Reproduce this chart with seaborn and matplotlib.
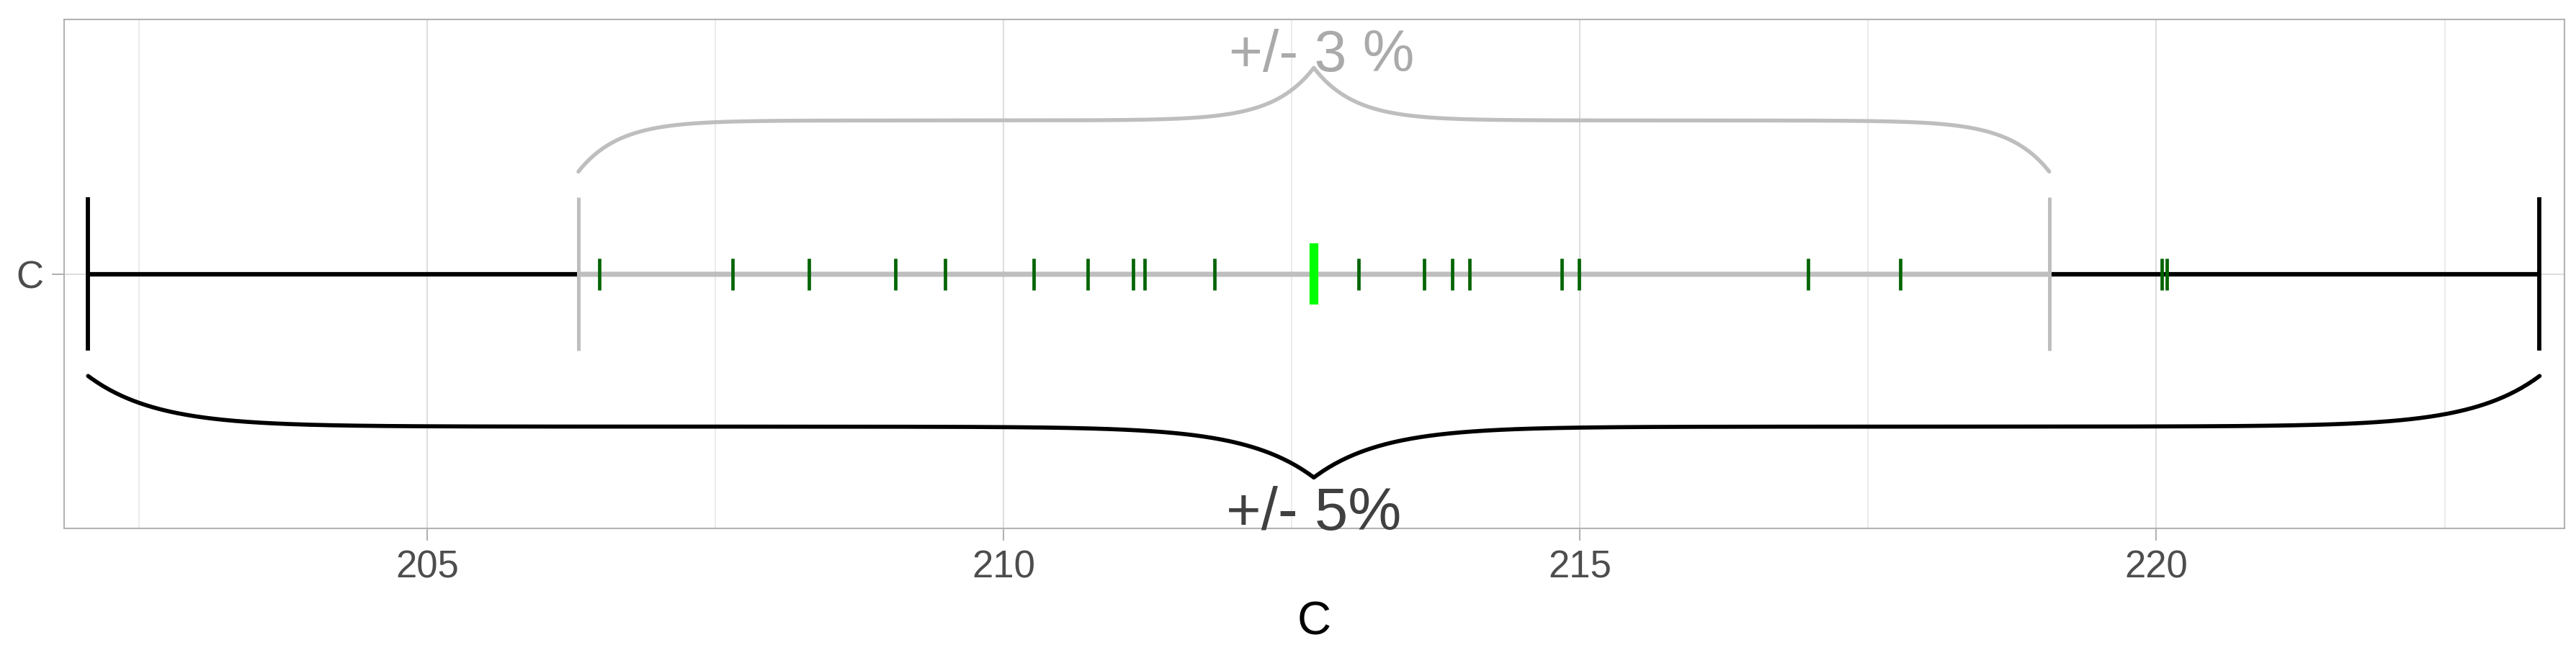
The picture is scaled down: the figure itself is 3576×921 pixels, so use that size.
import numpy as np
import matplotlib.pyplot as plt
import seaborn as sns
from matplotlib.ticker import MultipleLocator

# values
category = "C"
center = 212.69
pct_inner = 3
pct_outer = 5
values = [206.49, 207.65, 208.31, 209.06, 209.49, 210.26, 210.73, 211.12,
          211.22, 211.83, 213.08, 213.65, 213.89, 214.04, 214.84, 214.99,
          216.98, 217.78, 220.05, 220.09]
x_ticks = [205, 210, 215, 220]
label_inner = "+/- 3 %"
label_outer = "+/- 5%"

lo5, hi5 = center * (1 - pct_outer / 100), center * (1 + pct_outer / 100)
lo3, hi3 = center * (1 - pct_inner / 100), center * (1 + pct_inner / 100)


def brace(x1, x2, y_end, y_plat, y_tip, n=400):
    # curly brace from x1 to x2: ends at y_end, flat part at y_plat, point at y_tip
    half = (x2 - x1) / 2
    tau = 0.055 * half
    u = np.linspace(0, half, n)
    y = (y_plat + (y_end - y_plat) * np.exp(-u / tau)
         + (y_tip - y_plat) * np.exp(-(half - u) / tau))
    xs = np.concatenate([x1 + u, (x2 - u)[::-1]])
    ys = np.concatenate([y, y[::-1]])
    return xs, ys


sns.set_theme(style="whitegrid")
plt.rcParams['font.family'] = ['Liberation Sans', 'DejaVu Sans']

fig, ax = plt.subplots(figsize=(35.76, 9.21), dpi=100)
fig.subplots_adjust(left=0.025, right=0.9955, top=0.9707, bottom=0.203)

# +/- 5 % interval (black) and +/- 3 % interval (gray)
ax.hlines(0, lo5, hi5, color="black", lw=4.5, zorder=2)
ax.vlines([lo5, hi5], -0.3, 0.3, color="black", lw=4.2, zorder=2)
ax.hlines(0, lo3, hi3, color="#bebebe", lw=4.5, zorder=3)
ax.vlines([lo3, hi3], -0.3, 0.3, color="#bebebe", lw=3.6, zorder=3)

# individual values and the centre
sns.scatterplot(x=values, y=[0] * len(values), marker="|", s=1000,
                color="#006400", linewidth=3.4, ax=ax, zorder=4)
ax.vlines(center, -0.12, 0.12, color="#00ff00", lw=8.8, zorder=5)

# braces
bx, by = brace(lo3, hi3, 0.402, 0.603, 0.81)
ax.plot(bx, by, color="#bebebe", lw=3.9, solid_joinstyle="round",
        solid_capstyle="round", zorder=2)
ax.text(center + 0.07, 0.795, label_inner, ha="center", va="baseline",
        fontsize=58, color="#aaaaaa", zorder=6)
bx, by = brace(lo5, hi5, -0.401, -0.600, -0.80)
ax.plot(bx, by, color="black", lw=4.1, solid_joinstyle="round",
        solid_capstyle="round", zorder=2)
ax.text(center, -1.006, label_outer, ha="center", va="baseline",
        fontsize=60, color="#404040", zorder=6)

# axes styling
ax.set_xlim(201.85, 223.54)
ax.set_ylim(-1, 1)
ax.set_xticks(x_ticks)
ax.xaxis.set_minor_locator(MultipleLocator(2.5))
ax.set_yticks([0])
ax.set_yticklabels([category])
ax.grid(which="major", color="#dedede", lw=1.5)
ax.grid(which="minor", axis="x", color="#e6e6e6", lw=1.1)
ax.tick_params(axis="both", which="major", labelsize=38, labelcolor="#4d4d4d",
               color="#b3b3b3", length=12, width=1.5, pad=9, bottom=True, left=True)
ax.tick_params(which="minor", length=0)
for s in ax.spines.values():
    s.set_color("#b3b3b3")
    s.set_linewidth(1.5)
ax.set_xlabel(category, fontsize=47, color="black", labelpad=15)
ax.set_ylabel("")

fig.savefig("out.png", dpi=100)
